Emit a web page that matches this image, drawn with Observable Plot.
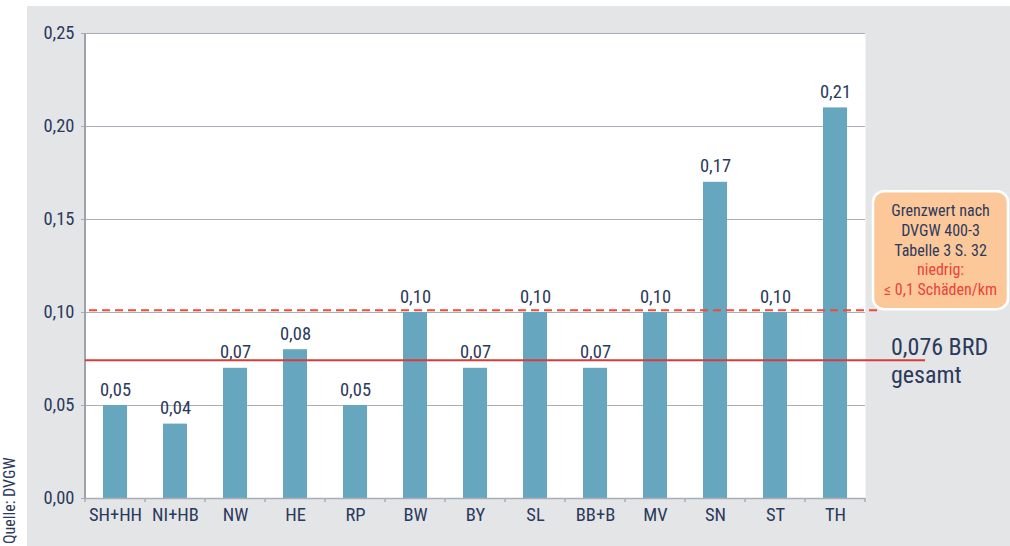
<!DOCTYPE html>
<html>
<head>
<meta charset="utf-8">
<script src="https://cdn.jsdelivr.net/npm/d3@7"></script>
<script src="https://cdn.jsdelivr.net/npm/@observablehq/plot@0.6"></script>
<style>
  html, body { margin: 0; padding: 0; background: #ffffff; }
  body { width: 1010px; height: 546px; position: relative; overflow: hidden;
         font-family: "Roboto", sans-serif; font-stretch: 75%; }
  #chart { position: absolute; left: 27px; top: 6px; width: 983px; height: 540px; background: #e4e5e7; }
  #chart svg, #chart svg text { font-stretch: 75%; }
  #source { position: absolute; left: 1px; top: 544px; transform-origin: 0 0; transform: rotate(-90deg);
            font-size: 16px; line-height: 18px; color: #2b3a5c; white-space: nowrap; font-stretch: 75%; }
</style>
</head>
<body>
<div id="chart"></div>
<div id="source">Quelle: DVGW</div>
<script>
// Data
const regions = ["SH+HH", "NI+HB", "NW", "HE", "RP", "BW", "BY", "SL", "BB+B", "MV", "SN", "ST", "TH"];
const damages = [0.05, 0.04, 0.07, 0.08, 0.05, 0.10, 0.07, 0.10, 0.07, 0.10, 0.17, 0.10, 0.21];
const yTicks = [0, 0.05, 0.10, 0.15, 0.20, 0.25];
const limitValue = [0.101];      // dashed limit line (DVGW 400-3)
const brdValue = [0.074];        // solid national average line
const brdLabel = ["0,076 BRD", "gesamt"];
const boxLines = ["Grenzwert nach", "DVGW 400-3", "Tabelle 3 S. 32"];
const boxRedLines = ["niedrig:", "≤ 0,1 Schäden/km"];

const fmt = d => d.toFixed(2).replace(".", ",");
const data = regions.map((r, i) => ({region: r, value: damages[i]}));

const navy = "#2b3a5c";
const gridColor = "#a7aeb7";
const font = "Roboto, sans-serif";

const W = 983, H = 540;
const plot = Plot.plot({
  width: W,
  height: H,
  marginLeft: 57,
  marginTop: 27,
  marginRight: 145,
  marginBottom: 48,
  style: {background: "transparent", fontFamily: font, fontSize: "18px", color: navy, fontStretch: "75%"},
  x: {domain: regions, paddingInner: 0.6, paddingOuter: 0.3, label: null},
  y: {domain: [0, 0.25], label: null},
  marks: [
    Plot.frame({fill: "white", stroke: "none"}),
    Plot.gridY(yTicks, {stroke: gridColor, strokeOpacity: 1, strokeWidth: 1}),
    Plot.barY(data, {x: "region", y: "value", fill: "#67a6bf"}),
    Plot.text(data, {x: "region", y: "value", text: d => fmt(d.value), lineAnchor: "bottom", dy: -10, fill: navy, fontSize: 18.5}),
    Plot.axisY(yTicks, {tickFormat: fmt, tickSize: 3, tickPadding: 7, stroke: gridColor, fill: navy, fontSize: 18.5, label: null}),
    Plot.axisX({tickSize: 0, tickPadding: 9, fill: navy, fontSize: 18.5, label: null}),
    Plot.ruleY([0], {stroke: gridColor, strokeWidth: 1.5})
  ]
});
document.getElementById("chart").appendChild(plot);

// Extras drawn through the plot's own scales
const xs = plot.scale("x");
const ys = plot.scale("y");
const svg = d3.select(plot);
const bw = xs.bandwidth;
const step = xs.step !== undefined ? xs.step : (xs.apply(regions[1]) - xs.apply(regions[0]));
const gap = (step - bw) / 2;
const x0 = xs.apply(regions[0]) - gap;
const x1 = xs.apply(regions[regions.length - 1]) + bw + gap;
const yBottom = ys.apply(0);
const yTop = ys.apply(0.25);

// category boundary ticks
const bounds = regions.map(r => xs.apply(r) - gap).concat([x1]);
svg.append("g").selectAll("line").data(bounds).join("line")
  .attr("x1", d => d).attr("x2", d => d)
  .attr("y1", yBottom).attr("y2", yBottom + 4)
  .attr("stroke", gridColor).attr("stroke-width", 1.5);

// left axis line
svg.append("line").attr("x1", x0).attr("x2", x0).attr("y1", yTop).attr("y2", yBottom)
  .attr("stroke", "#9ba3ad").attr("stroke-width", 2);

// dashed limit line
svg.append("g").selectAll("line").data(limitValue).join("line")
  .attr("x1", x0 + 4).attr("x2", x1 + 13)
  .attr("y1", d => ys.apply(d)).attr("y2", d => ys.apply(d))
  .attr("stroke", "#f04a38").attr("stroke-width", 2).attr("stroke-dasharray", "8,5");

// solid BRD line
svg.append("g").selectAll("line").data(brdValue).join("line")
  .attr("x1", x0).attr("x2", x1 + 60)
  .attr("y1", d => ys.apply(d)).attr("y2", d => ys.apply(d))
  .attr("stroke", "#d63c3c").attr("stroke-width", 2);

// BRD label
const brdY = ys.apply(brdValue[0]);
svg.append("g").attr("text-anchor", "start").selectAll("text").data(brdLabel).join("text")
  .attr("x", x1 + 26)
  .attr("y", (d, i) => brdY - 5 + i * 28)
  .attr("text-anchor", "start")
  .attr("fill", navy).attr("font-size", 24).attr("font-family", font)
  .style("font-stretch", "75%")
  .text(d => d);

// annotation box
const boxX = x1 + 8, boxW = 135, boxBottom = ys.apply(limitValue[0]) - 1, boxH = 118;
const box = svg.append("g");
box.append("rect").attr("x", boxX).attr("y", boxBottom - boxH).attr("width", boxW).attr("height", boxH)
  .attr("rx", 11).attr("ry", 11).attr("fill", "#fdc899").attr("stroke", "white").attr("stroke-width", 2.5);
const cx = boxX + boxW / 2;
const allLines = boxLines.map(t => ({t, c: navy})).concat(boxRedLines.map(t => ({t, c: "#ea4338"})));
box.selectAll("text").data(allLines).join("text")
  .attr("x", cx).attr("y", (d, i) => boxBottom - boxH + 25 + i * 19.7)
  .attr("text-anchor", "middle").attr("fill", d => d.c)
  .attr("font-size", 16).attr("font-family", font)
  .style("font-stretch", "75%")
  .text(d => d.t);
</script>
</body>
</html>
